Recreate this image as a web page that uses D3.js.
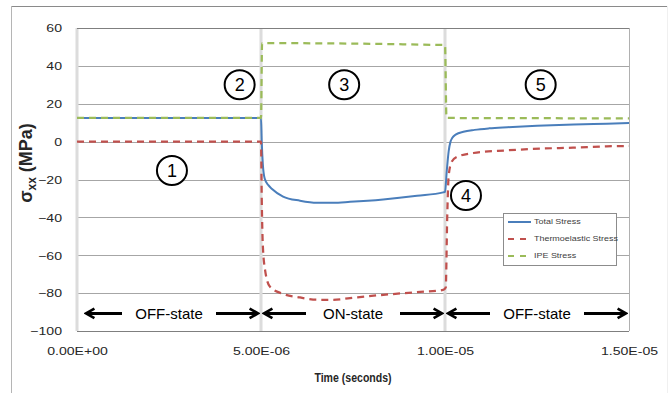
<!DOCTYPE html>
<html>
<head>
<meta charset="utf-8">
<script src="https://cdn.jsdelivr.net/npm/d3@7"></script>
<style>
  html, body { margin: 0; padding: 0; background: #fff; }
  svg { display: block; }
  text { font-family: "Liberation Sans", Arial, sans-serif; }
</style>
</head>
<body>
<svg id="chart" width="671" height="393"></svg>
<script>
// Stress history through one OFF / ON / OFF cycle (time in microseconds, stress in MPa)
const totalTime   = [0, 5.0, 5.02, 5.05, 5.1, 5.2, 5.3, 5.6, 6.06, 6.52, 6.96, 7.42, 8.32, 9.24, 9.95, 10.0, 10.05, 10.1, 10.15, 10.2, 10.3, 10.5, 10.8, 11.2, 11.7, 12.5, 13.5, 14.4, 15.0];
const totalStress = [12.5, 12.5, 0, -12, -19.5, -23, -25, -29, -31.2, -32.3, -32.3, -31.8, -30.5, -28.6, -26.8, -26.5, -15, -5, 0, 2, 3.8, 5.2, 6.2, 7.0, 7.6, 8.4, 9.1, 9.5, 9.8];

const thermoTime   = [0, 5.0, 5.02, 5.05, 5.11, 5.24, 5.6, 6.06, 6.52, 6.96, 7.42, 8.32, 9.24, 9.95, 10.02, 10.06, 10.1, 10.18, 10.32, 10.77, 11.68, 12.58, 13.48, 14.39, 15.0];
const thermoStress = [0, 0, -30, -55, -67.7, -76.5, -80.4, -82.3, -83.5, -83.5, -82.6, -80.9, -79.5, -78.3, -77, -40, -18, -10.7, -8.1, -6, -4.6, -3.7, -3.2, -2.5, -2.3];

const ipeTime   = [0, 5.0, 5.03, 10.0, 10.04, 15.0];
const ipeStress = [12.5, 12.5, 52, 51, 12.5, 12.3];

const seriesNames = ["Total Stress", "Thermoelastic Stress", "IPE Stress"];

const yTicks = [-100, -80, -60, -40, -20, 0, 20, 40, 60];
const xTicks = [0, 5e-6, 1e-5, 1.5e-5];
const xTickLabels = ["0.00E+00", "5.00E-06", "1.00E-05", "1.50E-05"];

// Circled stage markers: [number, time (µs), stress (MPa)]
const stageMarks = [["1", 2.58, -15.2], ["2", 4.42, 30], ["3", 7.26, 30], ["4", 10.57, -28.4], ["5", 12.6, 30]];
// Drive-state spans (µs)
const stateLabels = ["OFF-state", "ON-state", "OFF-state"];
const stateStart  = [0, 5, 10];
const stateEnd    = [5, 10, 15];
const stateLevel  = -90.7;

const us = 1e-6;
const zip = (ts, vs) => ts.map((t, i) => ({ t: t * us, v: vs[i] }));

const svg = d3.select("#chart");
const W = 671, H = 393;
const plotLeft = 77, plotRight = 629, plotTop = 28, plotBottom = 331;

const x = d3.scaleLinear().domain([0, 1.5e-5]).range([plotLeft, plotRight]);
const y = d3.scaleLinear().domain([-100, 60]).range([plotBottom, plotTop]);

// chart frame
svg.append("line").attr("x1", 11).attr("x2", 668).attr("y1", 6.5).attr("y2", 6.5).attr("stroke", "#8a8a8a");
svg.append("line").attr("x1", 11.5).attr("x2", 11.5).attr("y1", 6).attr("y2", H).attr("stroke", "#b5b5b5");
svg.append("line").attr("x1", 667.5).attr("x2", 667.5).attr("y1", 6).attr("y2", H).attr("stroke", "#f0f0f0");

// horizontal gridlines
svg.append("g").selectAll("line")
  .data(yTicks.filter(v => v > -100 && v < 60))
  .join("line")
  .attr("x1", plotLeft).attr("x2", plotRight)
  .attr("y1", d => Math.round(y(d)) + 0.5).attr("y2", d => Math.round(y(d)) + 0.5)
  .attr("stroke", "#a6a6a6").attr("stroke-width", 1);

// vertical dividers
svg.append("g").selectAll("line")
  .data([0, 5e-6, 1e-5])
  .join("line")
  .attr("x1", d => x(d)).attr("x2", d => x(d))
  .attr("y1", plotTop).attr("y2", plotBottom)
  .attr("stroke", "#dcdcdc").attr("stroke-width", 3);

// plot border
svg.append("line").attr("x1", plotLeft).attr("x2", plotRight).attr("y1", plotTop + 0.5).attr("y2", plotTop + 0.5).attr("stroke", "#7f7f7f");
svg.append("line").attr("x1", plotRight + 0.5).attr("x2", plotRight + 0.5).attr("y1", plotTop).attr("y2", plotBottom).attr("stroke", "#b0b0b0");

// axes
const yAxis = svg.append("g").attr("transform", `translate(${plotLeft},0)`)
  .call(d3.axisLeft(y).tickValues(yTicks).tickSize(0).tickFormat(d3.format("d")));
yAxis.select(".domain").remove();
yAxis.selectAll("text")
  .attr("x", 0).attr("dy", "0.35em")
  .attr("transform", "translate(-15,0) scale(1.28,1)")
  .attr("font-size", 11).attr("fill", "#262626").attr("font-family", "Liberation Sans, Arial, sans-serif");

const xAxis = svg.append("g").attr("transform", `translate(0,${plotBottom})`)
  .call(d3.axisBottom(x).tickValues(xTicks).tickSize(0).tickFormat((d, i) => xTickLabels[i]));
xAxis.select(".domain").attr("stroke", "#7f7f7f").attr("d", `M${plotLeft},0.5H${plotRight}`);
xAxis.selectAll("text")
  .attr("y", 0).attr("dy", 0)
  .attr("transform", "translate(0,24) scale(1.28,1)")
  .attr("font-size", 11).attr("fill", "#262626").attr("font-family", "Liberation Sans, Arial, sans-serif");

// axis titles
svg.append("text")
  .attr("transform", `translate(${(plotLeft + plotRight) / 2},382) scale(0.88,1)`)
  .attr("text-anchor", "middle").attr("font-size", 12).attr("font-weight", "bold").attr("fill", "#262626")
  .text("Time (seconds)");

const yTitle = svg.append("text")
  .attr("transform", "translate(32,163) rotate(-90)")
  .attr("text-anchor", "middle").attr("font-size", 18).attr("font-weight", "bold").attr("fill", "#262626");
yTitle.append("tspan").text("σ");
yTitle.append("tspan").attr("font-size", 12).attr("dy", 4).text("xx");
yTitle.append("tspan").attr("dy", -4).text(" (MPa)");

// series
const line = d3.line().x(d => x(d.t)).y(d => y(d.v)).curve(d3.curveMonotoneX);
const series = [
  { data: zip(totalTime, totalStress), color: "#4a7ebb", dash: null, width: 2 },
  { data: zip(thermoTime, thermoStress), color: "#c0504d", dash: "7,5", width: 2.25 },
  { data: zip(ipeTime, ipeStress), color: "#9bbb59", dash: "7,5", width: 2.25 }
];
svg.append("g").selectAll("path")
  .data(series)
  .join("path")
  .attr("d", d => line(d.data))
  .attr("fill", "none")
  .attr("stroke", d => d.color)
  .attr("stroke-width", d => d.width)
  .attr("stroke-dasharray", d => d.dash);

// stage markers
const marks = svg.append("g").selectAll("g")
  .data(stageMarks)
  .join("g")
  .attr("transform", d => `translate(${x(d[1] * us)},${y(d[2])})`);
marks.append("ellipse").attr("rx", 15).attr("ry", 14.5).attr("fill", "#fff").attr("stroke", "#000").attr("stroke-width", 2);
marks.append("text").attr("text-anchor", "middle").attr("dy", "0.36em")
  .attr("font-size", 18).attr("fill", "#000").text(d => d[0]);

// drive-state arrows
svg.append("defs").append("marker")
  .attr("id", "head").attr("viewBox", "0 0 10 10").attr("refX", 8).attr("refY", 5)
  .attr("markerWidth", 4).attr("markerHeight", 4.4).attr("orient", "auto")
  .append("path").attr("d", "M1,1 L8,5 L1,9").attr("fill", "none").attr("stroke", "#000").attr("stroke-width", 2.2);

const ys = y(stateLevel);
stateLabels.forEach((label, i) => {
  const x0 = x(stateStart[i] * us), x1 = x(stateEnd[i] * us);
  const cx = (x0 + x1) / 2;
  const g = svg.append("g");
  g.append("text").attr("x", cx).attr("y", ys).attr("dy", "0.36em").attr("text-anchor", "middle")
    .attr("font-size", 15).attr("fill", "#000").text(label);
  g.append("line").attr("x1", cx - 47).attr("x2", x0 + (i === 0 ? 9 : 3)).attr("y1", ys).attr("y2", ys)
    .attr("stroke", "#000").attr("stroke-width", 3).attr("marker-end", "url(#head)");
  g.append("line").attr("x1", cx + 47).attr("x2", x1 - 3).attr("y1", ys).attr("y2", ys)
    .attr("stroke", "#000").attr("stroke-width", 3).attr("marker-end", "url(#head)");
});

// legend
const lg = svg.append("g").attr("transform", "translate(503,213)");
lg.append("rect").attr("x", 0.5).attr("y", 0.5).attr("width", 113).attr("height", 52)
  .attr("fill", "#fff").attr("stroke", "#8c8c8c");
const li = lg.selectAll("g.item").data(series).join("g").attr("class", "item")
  .attr("transform", (d, i) => `translate(0,${9 + i * 17})`);
li.append("line").attr("x1", 5).attr("x2", 28).attr("y1", 0).attr("y2", 0)
  .attr("stroke", d => d.color).attr("stroke-width", 2).attr("stroke-dasharray", d => d.dash ? "6,6" : null);
li.append("text").attr("transform", "translate(31,0) scale(1.28,1)").attr("dy", "0.35em")
  .attr("font-size", 7).attr("fill", "#404040").text((d, i) => seriesNames[i]);
</script>
</body>
</html>
